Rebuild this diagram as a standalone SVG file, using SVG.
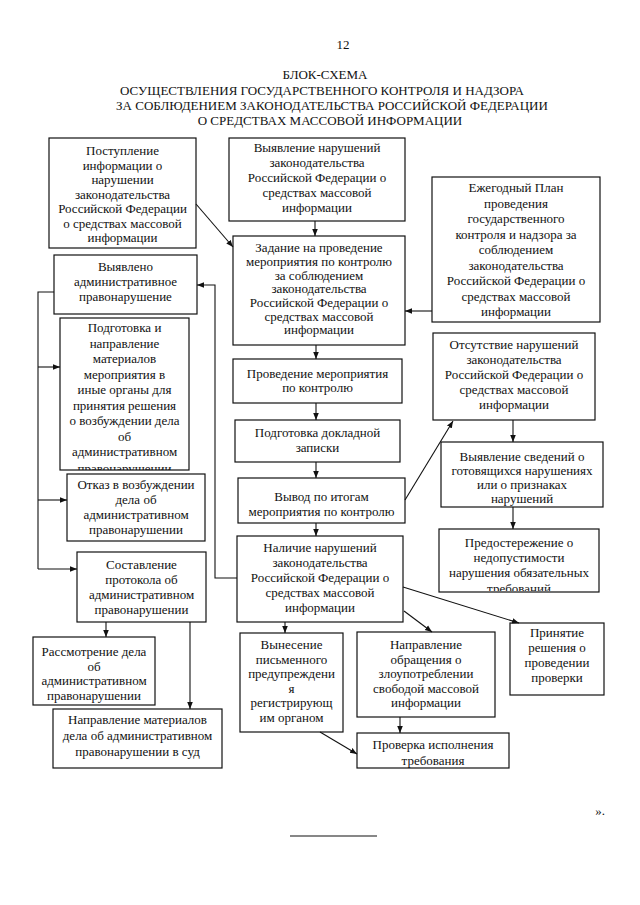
<svg xmlns="http://www.w3.org/2000/svg" width="640" height="905" viewBox="0 0 640 905">
<defs>
<style>
.box{fill:#fff;stroke:#111;stroke-width:1.2}
.t{font-family:"Liberation Serif","Times New Roman",serif;font-size:13px;text-anchor:middle;fill:#111}
.h{font-family:"Liberation Serif","Times New Roman",serif;font-size:13px;text-anchor:middle;fill:#111}
.c{fill:none;stroke:#111;stroke-width:1.1}
</style>
<marker id="ah" viewBox="0 0 10 10" refX="10" refY="5" markerWidth="7" markerHeight="7" orient="auto" markerUnits="userSpaceOnUse"><path d="M0,1 L10,5 L0,9 z" fill="#111"/></marker>
<clipPath id="cl6"><rect x="60" y="318" width="129" height="152"/></clipPath>
<clipPath id="cl16"><rect x="439" y="529" width="160" height="62"/></clipPath>
</defs>
<rect width="640" height="905" fill="#fff"/>
<g id="title">
<text class="h" x="343" y="49" font-size="14">12</text>
<text class="h" x="325" y="79">БЛОК-СХЕМА</text>
<text class="h" x="322" y="95">ОСУЩЕСТВЛЕНИЯ ГОСУДАРСТВЕННОГО КОНТРОЛЯ И НАДЗОРА</text>
<text class="h" x="332" y="110">ЗА СОБЛЮДЕНИЕМ ЗАКОНОДАТЕЛЬСТВА РОССИЙСКОЙ ФЕДЕРАЦИИ</text>
<text class="h" x="330" y="125">О СРЕДСТВАХ МАССОВОЙ ИНФОРМАЦИИ</text>
</g>
<g id="n1"><rect class="box" x="49" y="138" width="147" height="110"/>
<text class="t"><tspan x="122.5" y="155">Поступление</tspan><tspan x="122.5" y="169.5">информации о</tspan><tspan x="122.5" y="184">нарушении</tspan><tspan x="122.5" y="198.5">законодательства</tspan><tspan x="122.5" y="213">Российской Федерации</tspan><tspan x="122.5" y="227.5">о средствах массовой</tspan><tspan x="122.5" y="242">информации</tspan></text></g>
<g id="n2"><rect class="box" x="229" y="138" width="176" height="83"/>
<text class="t"><tspan x="317" y="152">Выявление нарушений</tspan><tspan x="317" y="167">законодательства</tspan><tspan x="317" y="182">Российской Федерации о</tspan><tspan x="317" y="197">средствах массовой</tspan><tspan x="317" y="212">информации</tspan></text></g>
<g id="n3"><rect class="box" x="233" y="236" width="172" height="109"/>
<text class="t"><tspan x="319" y="252">Задание на проведение</tspan><tspan x="319" y="266">мероприятия по контролю</tspan><tspan x="319" y="279.5">за соблюдением</tspan><tspan x="319" y="293">законодательства</tspan><tspan x="319" y="307">Российской Федерации о</tspan><tspan x="319" y="320.5">средствах массовой</tspan><tspan x="319" y="334">информации</tspan></text></g>
<g id="n4"><rect class="box" x="432" y="177" width="168" height="145"/>
<text class="t"><tspan x="516" y="192">Ежегодный План</tspan><tspan x="516" y="207.5">проведения</tspan><tspan x="516" y="223">государственного</tspan><tspan x="516" y="238.5">контроля и надзора за</tspan><tspan x="516" y="254">соблюдением</tspan><tspan x="516" y="269.5">законодательства</tspan><tspan x="516" y="285">Российской Федерации о</tspan><tspan x="516" y="300.5">средствах массовой</tspan><tspan x="516" y="316">информации</tspan></text></g>
<g id="n5"><rect class="box" x="54" y="255" width="143" height="59"/>
<text class="t"><tspan x="125.5" y="271">Выявлено</tspan><tspan x="125.5" y="286">административное</tspan><tspan x="125.5" y="301">правонарушение</tspan></text></g>
<g id="n6"><rect class="box" x="60" y="318" width="129" height="152"/>
<text class="t" clip-path="url(#cl6)"><tspan x="124.5" y="332">Подготовка и</tspan><tspan x="124.5" y="347.5">направление</tspan><tspan x="124.5" y="363">материалов</tspan><tspan x="124.5" y="378.5">мероприятия в</tspan><tspan x="124.5" y="394">иные органы для</tspan><tspan x="124.5" y="409.5">принятия решения</tspan><tspan x="124.5" y="425">о возбуждении дела</tspan><tspan x="124.5" y="440.5">об</tspan><tspan x="124.5" y="456">административном</tspan><tspan x="124.5" y="473">правонарушении</tspan></text></g>
<g id="n7"><rect class="box" x="67" y="474" width="138" height="67"/>
<text class="t"><tspan x="136" y="489">Отказ в возбуждении</tspan><tspan x="136" y="504">дела об</tspan><tspan x="136" y="519">административном</tspan><tspan x="136" y="534">правонарушении</tspan></text></g>
<g id="n8"><rect class="box" x="77" y="552" width="129" height="70"/>
<text class="t"><tspan x="141.5" y="569">Составление</tspan><tspan x="141.5" y="584">протокола об</tspan><tspan x="141.5" y="599">административном</tspan><tspan x="141.5" y="614">правонарушении</tspan></text></g>
<g id="n9"><rect class="box" x="33" y="637" width="122" height="68"/>
<text class="t"><tspan x="94" y="656">Рассмотрение дела</tspan><tspan x="94" y="670.5">об</tspan><tspan x="94" y="685">административном</tspan><tspan x="94" y="700">правонарушении</tspan></text></g>
<g id="n10"><rect class="box" x="53" y="709" width="169" height="59"/>
<text class="t"><tspan x="137.5" y="724">Направление материалов</tspan><tspan x="137.5" y="740">дела об административном</tspan><tspan x="137.5" y="756">правонарушении в суд</tspan></text></g>
<g id="n11"><rect class="box" x="233" y="359" width="169" height="44"/>
<text class="t"><tspan x="317.5" y="378">Проведение мероприятия</tspan><tspan x="317.5" y="392">по контролю</tspan></text></g>
<g id="n12"><rect class="box" x="235" y="420" width="165" height="42"/>
<text class="t"><tspan x="317.5" y="437">Подготовка докладной</tspan><tspan x="317.5" y="452">записки</tspan></text></g>
<g id="n13"><rect class="box" x="238" y="478" width="167" height="45"/>
<text class="t"><tspan x="321.5" y="501">Вывод по итогам</tspan><tspan x="321.5" y="516">мероприятия по контролю</tspan></text></g>
<g id="n14"><rect class="box" x="433" y="333" width="162" height="87"/>
<text class="t"><tspan x="514" y="349">Отсутствие нарушений</tspan><tspan x="514" y="364">законодательства</tspan><tspan x="514" y="379">Российской Федерации о</tspan><tspan x="514" y="394">средствах массовой</tspan><tspan x="514" y="409">информации</tspan></text></g>
<g id="n15"><rect class="box" x="441" y="442" width="162" height="65"/>
<text class="t"><tspan x="522" y="461">Выявление сведений о</tspan><tspan x="522" y="475">готовящихся нарушениях</tspan><tspan x="522" y="489">или о признаках</tspan><tspan x="522" y="503">нарушений</tspan></text></g>
<g id="n16"><rect class="box" x="439" y="529" width="160" height="63"/>
<text class="t" clip-path="url(#cl16)"><tspan x="519" y="547">Предостережение о</tspan><tspan x="519" y="562">недопустимости</tspan><tspan x="519" y="577">нарушения обязательных</tspan><tspan x="519" y="593">требований</tspan></text></g>
<g id="n17"><rect class="box" x="237" y="536" width="166" height="86"/>
<text class="t"><tspan x="320" y="552">Наличие нарушений</tspan><tspan x="320" y="567">законодательства</tspan><tspan x="320" y="582">Российской Федерации о</tspan><tspan x="320" y="597">средствах массовой</tspan><tspan x="320" y="612">информации</tspan></text></g>
<g id="n18"><rect class="box" x="240" y="633" width="103" height="99"/>
<text class="t"><tspan x="291.5" y="649">Вынесение</tspan><tspan x="291.5" y="663.5">письменного</tspan><tspan x="291.5" y="678">предупреждени</tspan><tspan x="291.5" y="692.5">я</tspan><tspan x="291.5" y="707">регистрирующ</tspan><tspan x="291.5" y="722">им органом</tspan></text></g>
<g id="n19"><rect class="box" x="357" y="632" width="138" height="85"/>
<text class="t"><tspan x="426" y="649">Направление</tspan><tspan x="426" y="663.5">обращения о</tspan><tspan x="426" y="678">злоупотреблении</tspan><tspan x="426" y="692.5">свободой массовой</tspan><tspan x="426" y="707">информации</tspan></text></g>
<g id="n20"><rect class="box" x="357" y="733" width="152" height="35"/>
<text class="t"><tspan x="433" y="749">Проверка исполнения</tspan><tspan x="433" y="765">требования</tspan></text></g>
<g id="n21"><rect class="box" x="510" y="623" width="94" height="72"/>
<text class="t"><tspan x="557" y="637">Принятие</tspan><tspan x="557" y="652">решения о</tspan><tspan x="557" y="667">проведении</tspan><tspan x="557" y="682">проверки</tspan></text></g>
<g id="connectors">
<path class="c" d="M196,204 L233,247" marker-end="url(#ah)"/>
<path class="c" d="M315,221 L315,236" marker-end="url(#ah)"/>
<path class="c" d="M432,311 L405,311" marker-end="url(#ah)"/>
<path class="c" d="M316,345 L316,359" marker-end="url(#ah)"/>
<path class="c" d="M316,403 L316,420" marker-end="url(#ah)"/>
<path class="c" d="M316,462 L316,478" marker-end="url(#ah)"/>
<path class="c" d="M316,523 L316,536" marker-end="url(#ah)"/>
<path class="c" d="M405,500 L453,421" marker-end="url(#ah)"/>
<path class="c" d="M513,420 L513,442" marker-end="url(#ah)"/>
<path class="c" d="M513,507 L513,529" marker-end="url(#ah)"/>
<path class="c" d="M237,578 L215,578 L215,285 L197,285" marker-end="url(#ah)"/>
<path class="c" d="M54,292 L38,292 L38,569"/>
<path class="c" d="M38,367 L60,367" marker-end="url(#ah)"/>
<path class="c" d="M38,500 L67,500" marker-end="url(#ah)"/>
<path class="c" d="M38,569 L77,569" marker-end="url(#ah)"/>
<path class="c" d="M106,622 L106,637" marker-end="url(#ah)"/>
<path class="c" d="M190,622 L190,709" marker-end="url(#ah)"/>
<path class="c" d="M285,622 L285,633" marker-end="url(#ah)"/>
<path class="c" d="M404,611 L432,632" marker-end="url(#ah)"/>
<path class="c" d="M403,587 L519,623" marker-end="url(#ah)"/>
<path class="c" d="M400,717 L400,733" marker-end="url(#ah)"/>
<path class="c" d="M320,732 L357,754" marker-end="url(#ah)"/>
</g>
<g id="footer">
<path class="c" d="M290,836 L377,836"/>
<text class="h" x="600" y="815">».</text>
</g>
</svg>
